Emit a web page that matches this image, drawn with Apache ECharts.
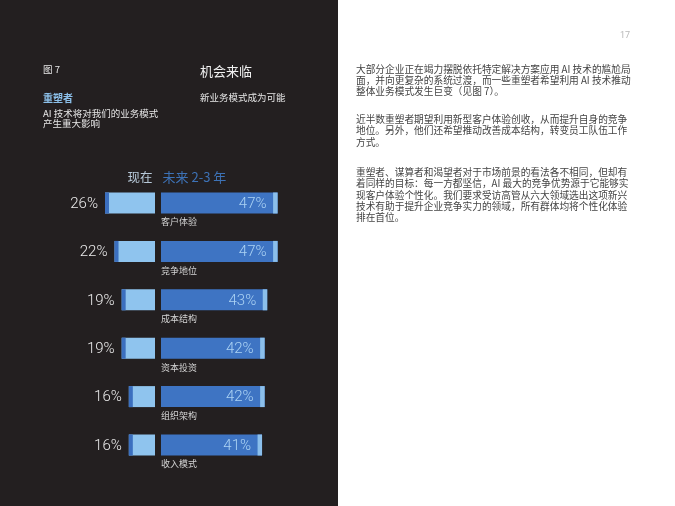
<!DOCTYPE html>
<html>
<head>
<meta charset="utf-8">
<script src="https://cdn.jsdelivr.net/npm/echarts@6/dist/echarts.min.js"></script>
<style>
  html, body { margin: 0; padding: 0; background: #ffffff; }
  #chart { width: 675px; height: 506px; }
</style>
</head>
<body>
<div id="chart"></div>
<script>
// 图 7 数据
var categories = ['客户体验', '竞争地位', '成本结构', '资本投资', '组织架构', '收入模式'];
var nowValues = [26, 22, 19, 19, 16, 16];      // 现在
var futureValues = [47, 47, 43, 42, 42, 41];   // 未来 2-3 年

var para1 = [
    '大部分企业正在竭力摆脱依托特定解决方案应用 AI 技术的尴尬局',
    '面，并向更复杂的系统过渡，而一些重塑者希望利用 AI 技术推动',
    '整体业务模式发生巨变（见图 7）。'
];
var para2 = [
    '近半数重塑者期望利用新型客户体验创收，从而提升自身的竞争',
    '地位。另外，他们还希望推动改善成本结构，转变员工队伍工作',
    '方式。'
];
var para3 = [
    '重塑者、谋算者和渴望者对于市场前景的看法各不相同，但却有',
    '着同样的目标：每一方都坚信，AI 最大的竞争优势源于它能够实',
    '现客户体验个性化。我们要求受访高管从六大领域选出这项新兴',
    '技术有助于提升企业竞争实力的领域，所有群体均将个性化体验',
    '排在首位。'
];

var CJK = '"Noto Sans CJK SC", sans-serif';
var NUM = 'Roboto, "Liberation Sans", sans-serif';
var NOW_MIN = 5, NOW_MAX = 26;
var FUT_MIN = 2, FUT_MAX = 47;
var BAR_H = 21;

var chart = echarts.init(document.getElementById('chart'));

function renderNow(params, api) {
    var v = api.value(0), i = api.value(1);
    var end = api.coord([v, i]);
    var base = api.coord([NOW_MIN, i]);
    var y = end[1] - BAR_H / 2;
    return {
        type: 'group',
        children: [
            { type: 'rect', shape: { x: end[0], y: y, width: base[0] - end[0], height: BAR_H }, style: { fill: '#8fc4ee' } },
            { type: 'rect', shape: { x: end[0], y: y, width: 4, height: BAR_H }, style: { fill: '#3b6fbf' } },
            { type: 'text', x: end[0] - 7, y: end[1] + 1, style: {
                text: v + '%', align: 'right', verticalAlign: 'middle',
                fill: '#ececec', fontSize: 15, fontWeight: 300, fontFamily: NUM } }
        ]
    };
}

function renderFuture(params, api) {
    var v = api.value(0), i = api.value(1);
    var start = api.coord([FUT_MIN, i]);
    var end = api.coord([v, i]);
    var y = end[1] - BAR_H / 2;
    return {
        type: 'group',
        children: [
            { type: 'rect', shape: { x: start[0], y: y, width: end[0] - start[0], height: BAR_H }, style: { fill: '#3e74c3' } },
            { type: 'rect', shape: { x: end[0] - 4.5, y: y, width: 4.5, height: BAR_H }, style: { fill: '#8bbfeb' } },
            { type: 'text', x: end[0] - 11, y: end[1] + 1, style: {
                text: v + '%', align: 'right', verticalAlign: 'middle',
                fill: '#acd3f4', fontSize: 15, fontWeight: 300, fontFamily: NUM } },
            { type: 'text', x: start[0], y: end[1] + 19, style: {
                text: categories[i], align: 'left', verticalAlign: 'middle',
                fill: '#d4d4d4', fontSize: 9, fontFamily: CJK } }
        ]
    };
}

function textLines(lines, x, y0, step, extra) {
    return lines.map(function (t, k) {
        return {
            type: 'text', x: x, y: y0 + k * step,
            style: Object.assign({
                text: t, verticalAlign: 'middle', fill: '#444444',
                fontSize: 9.7, fontFamily: CJK
            }, extra || {})
        };
    });
}

var graphics = [
    { type: 'rect', z: -10, shape: { x: 0, y: 0, width: 338, height: 506 }, style: { fill: '#231f20' } },
    { type: 'text', x: 43, y: 69, style: { text: '图 7', verticalAlign: 'middle', fill: '#e6e6e6', fontSize: 9.5, fontFamily: CJK } },
    { type: 'text', x: 43, y: 98, style: { text: '重塑者', verticalAlign: 'middle', fill: '#8cc0ea', fontSize: 10, fontWeight: 'bold', fontFamily: CJK } },
    { type: 'text', x: 43, y: 113.5, style: { text: 'AI 技术将对我们的业务模式', verticalAlign: 'middle', fill: '#e6e6e6', fontSize: 9.5, fontFamily: CJK } },
    { type: 'text', x: 43, y: 123.5, style: { text: '产生重大影响', verticalAlign: 'middle', fill: '#e6e6e6', fontSize: 9.5, fontFamily: CJK } },
    { type: 'text', x: 200, y: 71, style: { text: '机会来临', verticalAlign: 'middle', fill: '#f0f0f0', fontSize: 13, fontFamily: CJK } },
    { type: 'text', x: 200, y: 97, style: { text: '新业务模式成为可能', verticalAlign: 'middle', fill: '#e6e6e6', fontSize: 9.5, fontFamily: CJK } },
    { type: 'text', x: 152.5, y: 177, style: { text: '现在', align: 'right', verticalAlign: 'middle', fill: '#b7c9d9', fontSize: 12.5, fontFamily: CJK } },
    { type: 'text', x: 162.5, y: 177, style: { text: '未来 2-3 年', verticalAlign: 'middle', fill: '#3d72b6', fontSize: 13, fontFamily: CJK } },
    { type: 'text', x: 625, y: 36, style: { text: '17', align: 'center', verticalAlign: 'middle', fill: '#b8b8b8', fontSize: 9, fontFamily: NUM } }
]
    .concat(textLines(para1, 356, 69, 11.3))
    .concat(textLines(para2, 356, 119.3, 11.3))
    .concat(textLines(para3, 356, 172.5, 11.3));

var option = {
    backgroundColor: '#ffffff',
    animation: false,
    grid: [
        { left: 105, width: 50, top: 178.8, height: 290.4 },
        { left: 161, width: 116.6, top: 178.8, height: 290.4 }
    ],
    xAxis: [
        { gridIndex: 0, type: 'value', inverse: true, min: NOW_MIN, max: NOW_MAX, show: false },
        { gridIndex: 1, type: 'value', min: FUT_MIN, max: FUT_MAX, show: false }
    ],
    yAxis: [
        { gridIndex: 0, type: 'category', data: categories, inverse: true, show: false },
        { gridIndex: 1, type: 'category', data: categories, inverse: true, show: false }
    ],
    graphic: graphics,
    series: [
        {
            name: '现在', type: 'custom', xAxisIndex: 0, yAxisIndex: 0,
            renderItem: renderNow,
            encode: { x: 0, y: 1 },
            data: nowValues.map(function (v, i) { return [v, i]; })
        },
        {
            name: '未来 2-3 年', type: 'custom', xAxisIndex: 1, yAxisIndex: 1,
            renderItem: renderFuture,
            encode: { x: 0, y: 1 },
            data: futureValues.map(function (v, i) { return [v, i]; })
        }
    ]
};

chart.setOption(option);
</script>
</body>
</html>
